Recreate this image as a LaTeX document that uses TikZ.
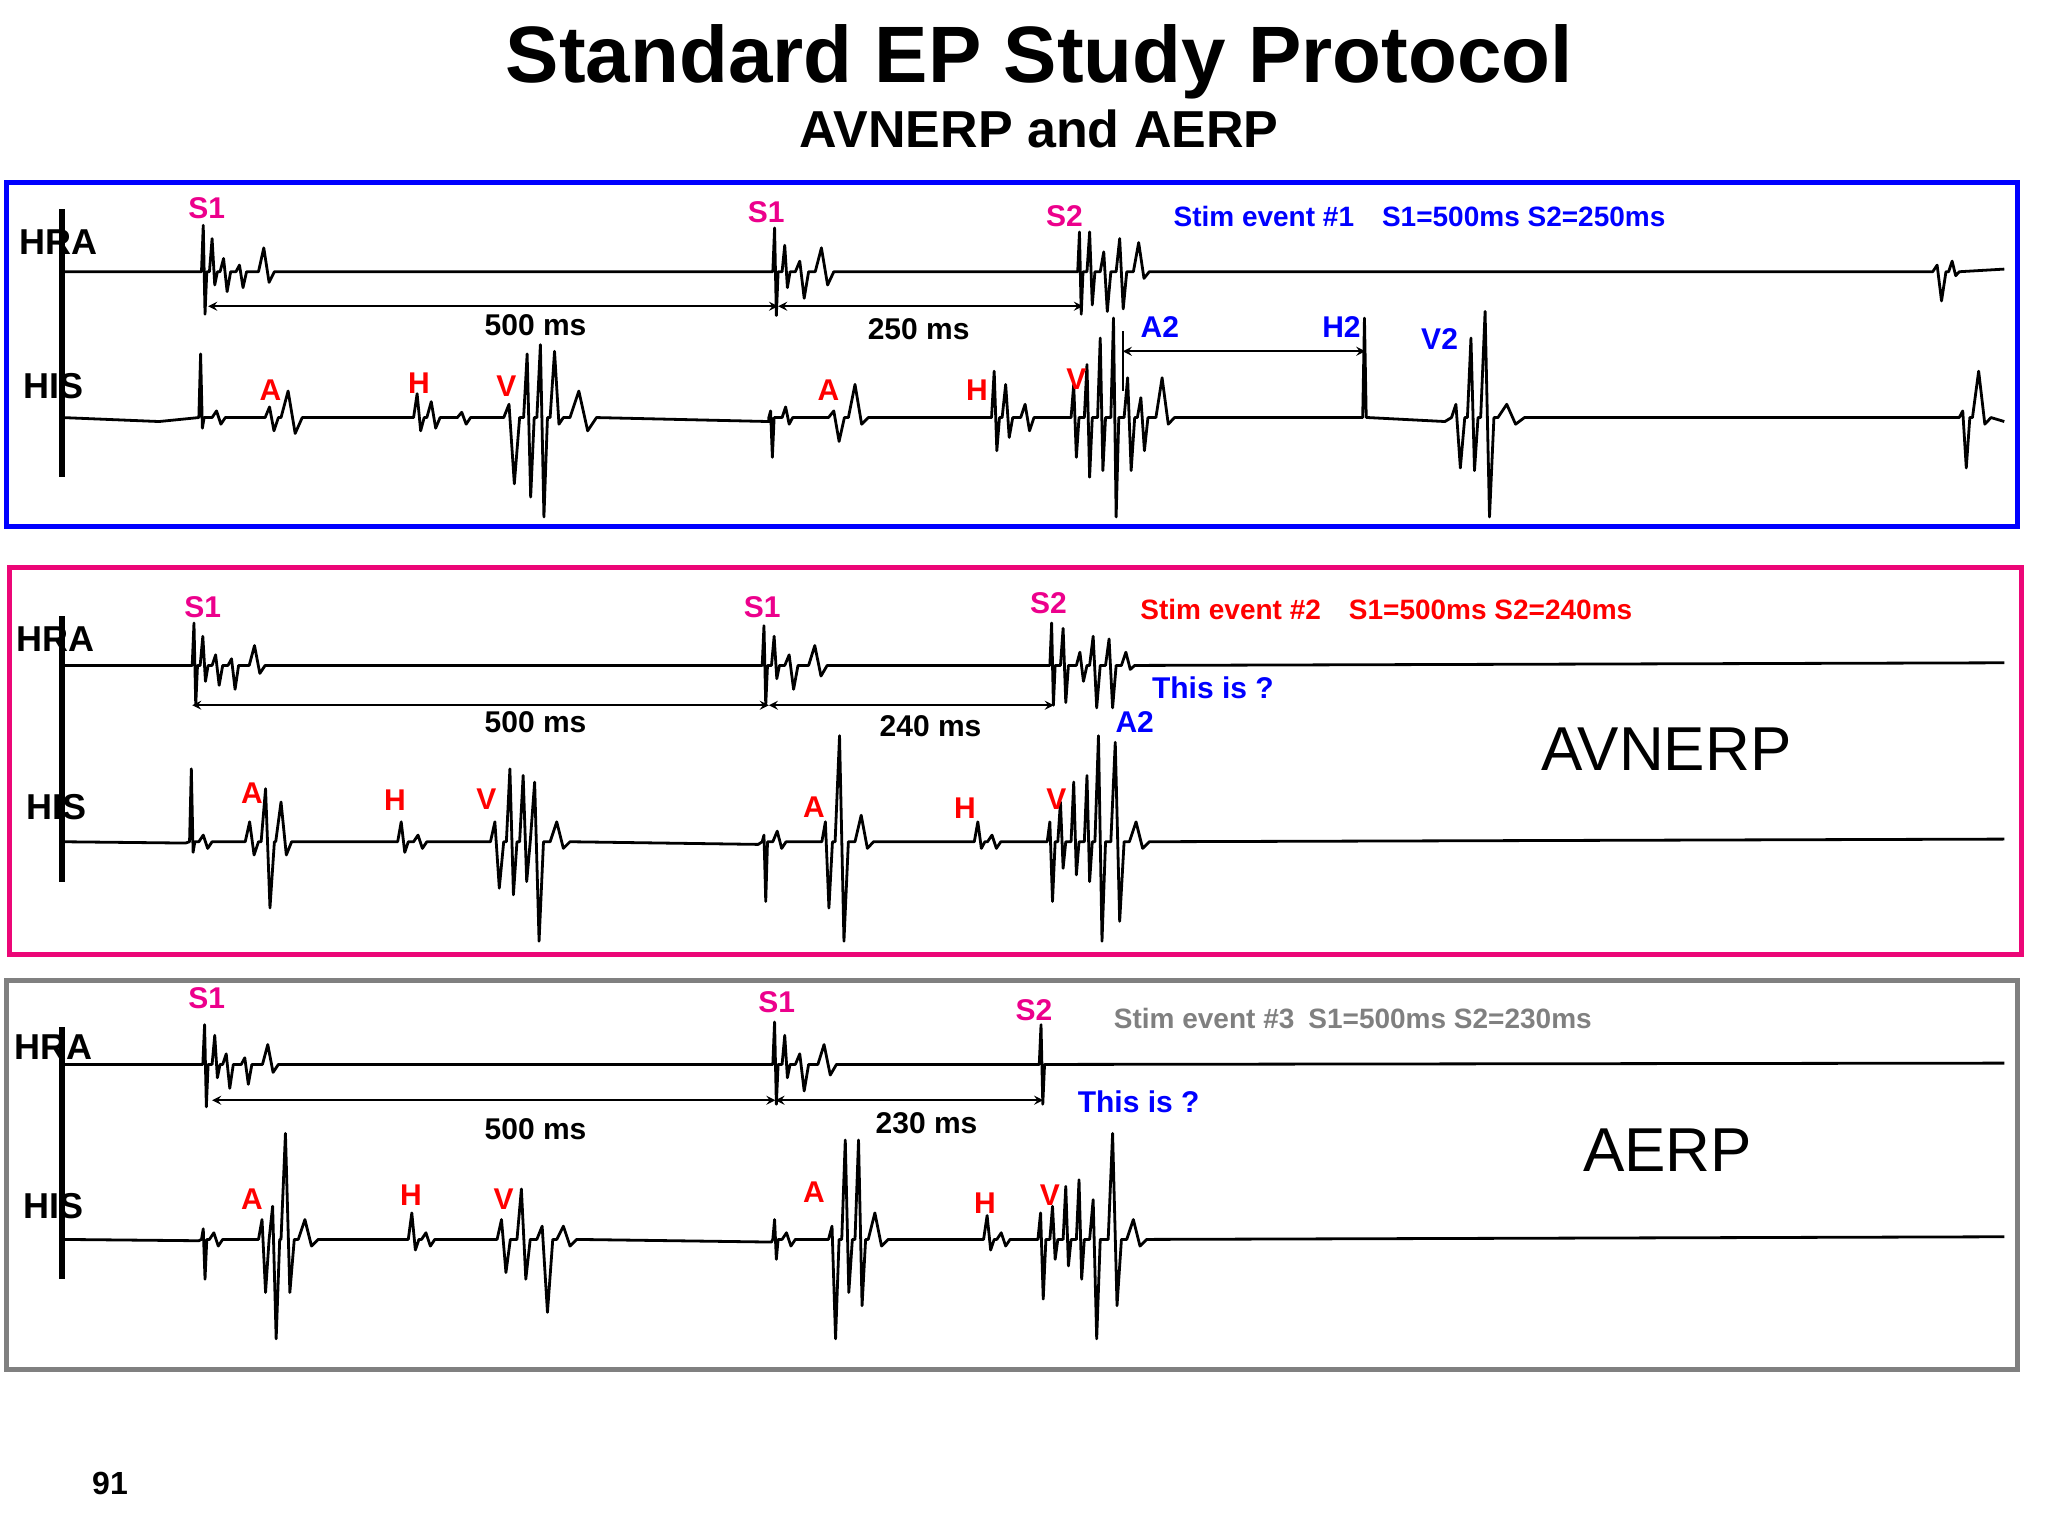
\documentclass[tikz,border=0pt]{standalone}
\usepackage{fontspec}
\setmainfont{Liberation Sans}
\begin{document}
\newcommand\bl[4]{-- (#1,\by) -- ({#1+#4/3},{\by-#2}) -- ({#1+2*#4/3},{\by+#3}) -- ({#1+#4},\by)}
\begin{tikzpicture}[x=0.6628pt,y=-0.6628pt,
  tr/.style={line width=1.4pt,line join=round},
  cal/.style={line width=3pt},
  ms/.style={<->,>=stealth,line width=1pt},
  lab/.style={font=\bfseries\fontsize{18}{20}\selectfont},
  mk/.style={font=\bfseries\fontsize{15}{17}\selectfont,text=red},
  sm/.style={font=\bfseries\fontsize{15}{17}\selectfont,text=magenta},
  ev/.style={font=\bfseries\fontsize{14}{16}\selectfont,anchor=west},
  msl/.style={font=\bfseries\fontsize{15}{17}\selectfont},
  big/.style={font=\fontsize{31}{34}\selectfont}]
\useasboundingbox (0,0) rectangle (1545,1159);
\node (t) at (784,47) {\bfseries\fontsize{40}{44}\selectfont Standard EP Study Protocol};
\node (st) at (784,97) {\bfseries\fontsize{26}{28}\selectfont AVNERP and AERP};
\node (pg) at (83,1119) {\bfseries\fontsize{16}{18}\selectfont 91};
% panels
\draw[blue,line width=2.5pt] (5,138) rectangle (1522,397);
\draw[magenta!80!red,line width=2.5pt] (7,428) rectangle (1525,720);
\draw[gray,line width=2.5pt] (5,740) rectangle (1522,1033);
% ---------- panel 1
\draw[cal] (47,158)--(47,360);
\def\by{205}
\draw[tr] (47,205)\bl{152}{35}{32}{4}\bl{158}{25}{10}{6}\bl{166}{10}{15}{8}\bl{178}{5}{12}{8}\bl{195}{18}{8}{12}--(583,205)\bl{583}{33}{33}{4}\bl{590}{20}{12}{6}\bl{600}{8}{20}{10}\bl{615}{18}{10}{14}--(812,205)\bl{813}{30}{32}{4}\bl{820}{30}{25}{6}\bl{830}{15}{30}{8}\bl{842}{25}{28}{8}\bl{855}{22}{5}{12}--(1458,205)\bl{1458}{5}{22}{10}\bl{1470}{8}{3}{8}--(1512,203);
\def\by{315}
\draw[tr] (47,315)--(120,318)\bl{150}{48}{8}{4}\bl{160}{5}{5}{10}\bl{200}{8}{10}{10}\bl{212}{20}{12}{16}--(310,315)\bl{312}{18}{10}{8}\bl{322}{12}{8}{10}\bl{345}{4}{5}{10}\bl{380}{10}{50}{12}\bl{395}{48}{60}{8}\bl{405}{55}{75}{8}\bl{415}{50}{5}{10}\bl{430}{20}{10}{20}--(580,318)\bl{580}{5}{30}{4}\bl{590}{8}{5}{8}\bl{625}{5}{18}{12}\bl{640}{25}{5}{15}--(745,315)\bl{748}{35}{25}{6}\bl{756}{25}{15}{8}\bl{770}{10}{10}{10}\bl{808}{25}{30}{6}\bl{818}{40}{45}{6}\bl{828}{60}{40}{6}\bl{838}{75}{75}{6}\bl{848}{30}{40}{8}\bl{858}{15}{25}{8}\bl{872}{30}{5}{14}--(1025,315)\bl{1028}{75}{0}{4}--(1090,318)\bl{1095}{10}{38}{10}\bl{1107}{60}{40}{8}\bl{1117}{80}{75}{10}\bl{1130}{10}{5}{20}--(1475,315)\bl{1478}{5}{38}{8}\bl{1488}{35}{5}{14}--(1512,318);
\node[lab] (hra1) at (44,183) {HRA};
\node[lab] (his1) at (40,291) {HIS};
\node[sm] (s11) at (156,157) {S1};
\node[sm] (s12) at (578,160) {S1};
\node[sm] (s21) at (803,163) {S2};
\node[ev,text=blue] (e1) at (880,163) {Stim event \#1\quad S1=500ms S2=250ms};
\coordinate (a1) at (157,231); \coordinate (b1) at (587,231); \coordinate (c1) at (817,231);
\draw[ms] (a1)--(b1); \draw[ms] (b1)--(c1);
\node[msl] (m1) at (404,245) {500 ms};
\node[msl] (m2) at (693,248) {250 ms};
\coordinate (a2) at (847,265); \coordinate (h2) at (1030,265);
\draw[ms] (a2)--(h2);
\draw[line width=1pt] (847,250)--(847,295) (1030,240)--(1030,300);
\node[msl,text=blue] (la2) at (875,247) {A2};
\node[msl,text=blue] (lh2) at (1012,247) {H2};
\node[msl,text=blue] (lv2) at (1086,256) {V2};
\node[mk] at (204,294) {A}; \node[mk] at (316,289) {H}; \node[mk] at (382,291) {V};
\node[mk] at (625,294) {A}; \node[mk] at (737,294) {H}; \node[mk] at (812,286) {V};
% ---------- panel 2
\draw[cal] (47,465)--(47,665);
\def\by{502}
\draw[tr] (47,502)\bl{145}{32}{30}{4}\bl{151}{22}{12}{6}\bl{160}{8}{15}{8}\bl{172}{5}{18}{8}\bl{188}{15}{6}{12}--(575,502)\bl{575}{30}{30}{4}\bl{582}{22}{10}{6}\bl{592}{8}{18}{10}\bl{610}{15}{8}{14}--(792,502)\bl{792}{32}{30}{4}\bl{800}{28}{28}{6}\bl{812}{10}{12}{8}\bl{822}{22}{32}{8}\bl{834}{20}{32}{8}\bl{846}{10}{3}{10}--(1512,500);
\def\by{635}
\draw[tr] (47,635)--(140,636)\bl{143}{55}{8}{4}\bl{150}{5}{5}{10}\bl{185}{15}{10}{10}\bl{197}{40}{50}{10}\bl{208}{30}{10}{12}--(298,635)\bl{300}{15}{8}{8}\bl{312}{5}{5}{10}\bl{370}{15}{35}{10}\bl{382}{55}{40}{8}\bl{392}{50}{30}{8}\bl{400}{45}{75}{10}\bl{415}{15}{5}{15}--(572,637)\bl{575}{5}{45}{4}\bl{583}{8}{5}{10}\bl{620}{15}{50}{8}\bl{630}{80}{75}{10}\bl{645}{20}{5}{14}--(732,635)\bl{735}{15}{5}{8}\bl{745}{5}{5}{10}\bl{790}{15}{45}{6}\bl{798}{30}{20}{6}\bl{808}{45}{25}{6}\bl{818}{50}{30}{6}\bl{826}{80}{75}{8}\bl{838}{75}{60}{10}\bl{852}{15}{5}{15}--(1512,633);
\node[lab] (hra2) at (42,482) {HRA};
\node[lab] (his2) at (43,609) {HIS};
\node[sm] at (153,458) {S1}; \node[sm] at (575,458) {S1}; \node[sm] at (791,455) {S2};
\node[ev,text=red] (e2) at (855,460) {Stim event \#2\quad S1=500ms S2=240ms};
\coordinate (a3) at (145,532); \coordinate (b3) at (580,532); \coordinate (c3) at (795,532);
\draw[ms] (a3)--(b3); \draw[ms] (b3)--(c3);
\node[msl] at (404,545) {500 ms};
\node[msl] at (702,548) {240 ms};
\node[msl,text=blue] at (915,519) {This is ?};
\node[msl,text=blue] at (856,545) {A2};
\node[big] (avn) at (1257,565) {AVNERP};
\node[mk] at (190,598) {A}; \node[mk] at (298,604) {H}; \node[mk] at (367,603) {V};
\node[mk] at (614,609) {A}; \node[mk] at (728,610) {H}; \node[mk] at (797,603) {V};
% ---------- panel 3
\draw[cal] (47,775)--(47,965);
\def\by{803}
\draw[tr] (47,803)\bl{153}{30}{32}{4}\bl{160}{22}{10}{6}\bl{168}{8}{18}{8}\bl{182}{5}{15}{8}\bl{198}{15}{6}{12}--(583,803)\bl{583}{32}{30}{4}\bl{590}{22}{10}{6}\bl{600}{8}{20}{10}\bl{617}{15}{8}{14}--(784,803)\bl{784}{30}{30}{4}--(1512,802);
\def\by{935}
\draw[tr] (47,935)--(150,936)\bl{152}{8}{30}{4}\bl{158}{5}{5}{10}\bl{195}{15}{40}{8}\bl{203}{25}{75}{8}\bl{212}{80}{40}{10}\bl{225}{15}{5}{15}--(305,935)\bl{308}{20}{8}{8}\bl{318}{5}{5}{10}\bl{375}{15}{25}{10}\bl{390}{38}{30}{10}\bl{405}{10}{55}{12}\bl{420}{10}{5}{15}--(582,937)\bl{583}{15}{15}{4}\bl{590}{5}{5}{10}\bl{625}{10}{75}{8}\bl{635}{75}{40}{8}\bl{645}{75}{50}{8}\bl{655}{20}{5}{15}--(740,935)\bl{742}{18}{8}{8}\bl{752}{5}{5}{10}\bl{783}{20}{45}{6}\bl{792}{25}{15}{6}\bl{802}{40}{20}{6}\bl{812}{45}{30}{6}\bl{822}{30}{75}{8}\bl{836}{80}{50}{10}\bl{850}{15}{5}{15}--(1512,933);
\node[lab] (hra3) at (40,790) {HRA};
\node[lab] (his3) at (40,910) {HIS};
\node[sm] at (156,753) {S1}; \node[sm] at (586,756) {S1}; \node[sm] at (780,762) {S2};
\node[ev,text=gray] (e3) at (835,768) {Stim event \#3\enspace S1=500ms S2=230ms};
\coordinate (a4) at (160,830); \coordinate (b4) at (585,830); \coordinate (c4) at (787,830);
\draw[ms] (a4)--(b4); \draw[ms] (b4)--(c4);
\node[msl] at (404,852) {500 ms};
\node[msl] at (699,847) {230 ms};
\node[msl,text=blue] at (859,831) {This is ?};
\node[big] (aerp) at (1258,868) {AERP};
\node[mk] at (190,905) {A}; \node[mk] at (310,902) {H}; \node[mk] at (380,905) {V};
\node[mk] at (614,899) {A}; \node[mk] at (743,908) {H}; \node[mk] at (792,902) {V};
\end{tikzpicture}
\end{document}
